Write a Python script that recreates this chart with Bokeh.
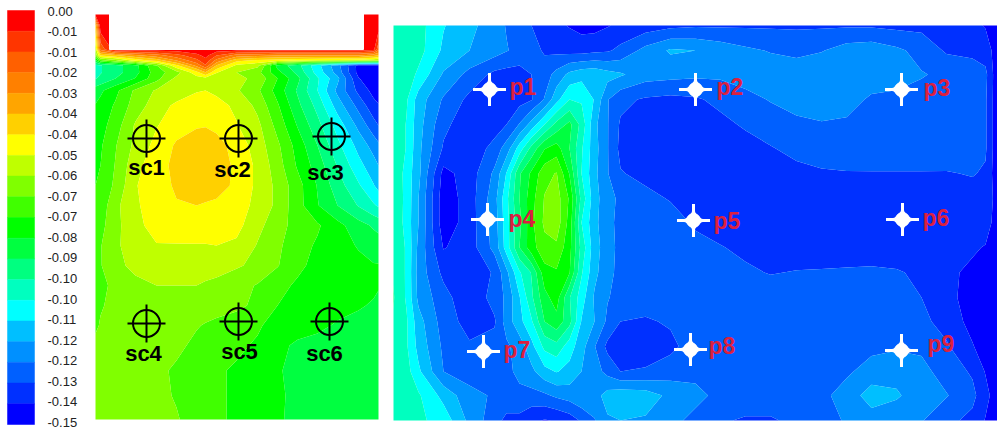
import numpy as np
from bokeh.plotting import figure
from bokeh.core.properties import value
from bokeh.embed import file_html
from bokeh.resources import INLINE

# --- colour scale -----------------------------------------------------------
scale_labels = ["0.00","-0.01","-0.01","-0.02","-0.03","-0.04","-0.04","-0.05","-0.06","-0.07","-0.07",
                "-0.08","-0.09","-0.10","-0.10","-0.11","-0.12","-0.12","-0.13","-0.14","-0.15"]
band_colors_top_down = ["#ff0000","#ff3500","#ff6000","#ff8000","#ffa500","#ffd000","#ffff00","#bfff00",
                        "#80ff00","#40ff00","#00ff00","#00ff40","#00ff80","#00ffbf","#00ffff","#00bfff",
                        "#0090ff","#0060ff","#0030ff","#0000ff"]

# --- left map: values in thousandths below zero -------------------------------
left_x = [95,100,115,135,156,176,196,205,216,236,257,277,297,317,337,358,373,378]
left_y = [14,25,49,55,60,65,72,78,90,105,125,145,165,185,205,225,245,265,285,305,325,345,370,395,419]
left_z = [
 [5,2,2,2,2,2,2,2,2,2,2,2,2,2,2,2,2,3],
 [40,2,2,2,2,2,2,2,2,2,2,2,2,2,2,2,2,3],
 [58,20,3,3,3,3,2,2,3,3,3,3,3,3,3,3,5,20],
 [65,45,40,32,26,18,10,5,15,26,28,30,30,30,30,30,35,38],
 [85,70,62,50,42,30,17,10,25,43,47,49,52,54,55,56,58,60],
 [100,98,93,85,68,47,28,16,38,54,58,85,95,110,125,145,148,148],
 [100,98,93,85,71,63,48,38,52,60,65,80,92,108,123,145,148,149],
 [98,96,90,82,70,58,56,55,58,58,62,75,88,104,118,142,148,149],
 [86,84,77,66,59,57,53,52.5,54,59,66,78,91,105,122,137,145,146],
 [82,80,74,64,56,51,49,49,50,54,62,74,88,100,116,130,140,142],
 [80,78,71,59,53,48,46,45.5,47,52,58,70,83,95,108,122,132,135],
 [78,76,68,58,50,44,40,40,42,48,56,66,78,90,103,115,123,126],
 [77,75,67,55,48,43,39,39,40,47,54,64,76,86,98,110,117,120],
 [75,73,66,53,48,44,40,40,41,47,54,62,72,83,94,104,112,115],
 [74,72,62,53.5,49,45.5,45,46,47,50,54,62,72,82,90,98,104,106],
 [72,70,62,55,49,48,47,47.5,48,50,58,64,71,74,80,87,91,92],
 [71,68,61,57,53,53,53,53,52.5,54,60.5,66,72,76,80,83,86,87],
 [70,68,62,58,56,56,56,56.5,57,59,62,67,73.5,77,79,81,82,82],
 [70,69,66,62,60,60,60,61,62,65,68,73,76,78,79,81,81.5,82],
 [69,68,66,63,62,63,64,64.5,65,66,69,75,78,80,81,82,83,84],
 [68.5,67,65,64,64,65,67,68,69,71,74,78,80,81.5,83,84,85,85],
 [66,65,64,64,65,66,69,70,71,73.5,76,81,83.5,84,85,85,85,85],
 [65,65,65,65,66,68.5,71,72.5,74,76,79,82,84,85,85,85,85,85],
 [65,65,65,65,66,68,71,72.5,74,76,79,81.5,84,85,85,85,85,85],
 [65,65,65,65,66,67,70,72,74,76,79,82,83.5,85,85,85,85,85],
]

# --- right map ---------------------------------------------------------------
right_x = [393,406,418,443,469,494,506,519,531,544,556,569,581,594,607,620,645,670,695,720,745,770,796,821,846,871,896,921,946,972,985,997]
right_y = [25,50,74,99,124,148,173,198,222,247,272,297,321,346,371,395,420]
right_z = [
 [101,101,102,112,118,124,128,133,135,139,141,143,145,145,143,141,139,137,136,136,136,136,136,136,136,136,137,137,140,141,143,147],
 [100,100,102,114,120,124,127,130,132,136,137,138,138,137,136,133,125,119,120,123,126,128,130,128,124,123,126,130,136,137,139,146],
 [100,101,106.5,121,130,137,138,138,135,131,125,118,115,114,117,119,124,125,126,126,124,123,122,121,121,124,125,127,129,131,133,148],
 [100,104,116,128.5,137,139,139,138,135.5,127,115,105,106,113,127,133,136,137,136,133,130,127,124,121,125,128.5,129,130,131,132,134,148],
 [98,105.5,117,133,140,139,135,127,117,105,95,88,100,118,127,136,139,139,139,137,134,131.5,129.5,128.5,128.5,129.5,130,130,131,132,134,148],
 [98,105.5,118,136,141,132,124,109,95,83,79,90,104,117,127,137,141,141,141,140,138,135.5,133,131,130.5,130,130,130,130.5,131,134,148],
 [98,108,118,145,139,126,112,91,81,70,67,83,105,118,127,134.5,137,139,140,141,140,139,137,136,135.5,135.5,135.5,135.5,135.5,134.5,136,148],
 [98,107.5,120,147,139,123,107,90,78,67,64,76,100,117,125,129,133,135.5,137,141,141,141,141,141,141,141,141,140,139,138,137,146],
 [98,108,120,147,139,124,108,92,77,66,63,78,105,118,125,130,131,132,136,139,140,141,141,141,141,141,141,140,139,139,139,146],
 [98,106,122,143,139,125,109,90,78,70,69,80,100,117,124,130,131,132,133,134.5,137,139,140,141,141,141,141,141,141,141.5,143,147],
 [98,106,123,137,141,134,122,106,97,78,76,82,104,118,125,130,131,131,131,132,133.5,135.5,134.5,134,133.5,133,134,137,141,144,146,148],
 [97,106,122,132,141,132,126,113,99,85,79,97,109,121,127,130,131,131,131,130,130,130,130,130,130,130,130,135,140,146,147,148],
 [98,104,117,131,138,136,124,115,106,90,85,95,113,120,129,135,136,134,131,130.5,130,130,130,130,130,130,130,133,138,145,147,148],
 [100,104,115,129,134,132,129,124,115,103,100,109,117,127,137,140,140,137,131,130,130,130,130,130,130,129,128.5,129,134,142,146,148],
 [100,102,111,127.5,131,131,130,125,122,115,112,115,120,124,130,135,134,131,130,130,130,130,130,130,128.5,125,122.5,125,131,136,143,148],
 [103,103,104,115,125,128.5,130,130,130,129,126,124,121,123,117,115,116,122,125,130,130,130,130,129,125,116,119,124,127,133,140,147],
 [103,103,103.5,108,122,132,137,137,141,143,142,139,134,128,121,120,121,125,130,134,136,136,133,129.5,127,124,125,127,133,137,143,148],
]

# --- annotations --------------------------------------------------------------
sc_names = ["sc1","sc2","sc3","sc4","sc5","sc6"]
sc_x = [146,238,331,146,238,329]
sc_y = [138,138,136,323,321,321]
sc_label_x = [146,232,325,143,239,324]
sc_label_y = [167,169,172,353,351,353]

p_names = ["p1","p2","p3","p4","p5","p6","p7","p8","p9"]
p_x = [489,695,901,487,693,902,483,690,901]
p_y = [89,89,89,219,220,219,351,349,350]
p_label_x = [509,716,923,508,713,922,503,708,927]
p_label_y = [86,86,87,218,220,217,349,345,343]

FONT = value("Liberation Sans")

p = figure(width=997, height=430, x_range=(0, 997), y_range=(430, 0),
           x_axis_type=None, y_axis_type=None, output_backend="svg",
           toolbar_location=None, min_border=0, outline_line_color=None,
           background_fill_color="white", border_fill_color="white")

n_bands = len(band_colors_top_down)
levels = -np.arange(n_bands, -1, -1) * 0.15 / n_bands
colors_ascending = band_colors_top_down[::-1]

# colour bar
bar_top, bar_bottom, bar_left, bar_right = 10.0, 424.0, 7, 34
step = (bar_bottom - bar_top) / n_bands
edges = bar_top + step * np.arange(n_bands + 1)
p.quad(left=bar_left, right=bar_right, top=edges[:-1], bottom=edges[1:],
       fill_color=band_colors_top_down, line_color=band_colors_top_down, line_width=0.5)
label_ys = np.linspace(10.5, 422.0, len(scale_labels))
p.text(x=47, y=label_ys, text=scale_labels, text_font=FONT, text_font_size="13px",
       text_color="#222222", text_baseline="middle", text_align="left")

# maps
for xs, ys, zs in [(left_x, left_y, left_z), (right_x, right_y, right_z)]:
    z = -np.array(zs, dtype=float) / 1000.0
    p.contour(np.array(xs, dtype=float), np.array(ys, dtype=float), z, levels,
              fill_color=colors_ascending)

# notch of the left map
p.quad(left=109, right=363, top=10, bottom=49, fill_color="white", line_color="white")

# sc markers
p.scatter(sc_x, sc_y, marker="circle", size=27, fill_color=None, line_color="black", line_width=2)
p.scatter(sc_x, sc_y, marker="cross", size=38, fill_color=None, line_color="black", line_width=2)
p.text(sc_label_x, sc_label_y, text=sc_names, text_font=FONT, text_font_style="bold",
       text_font_size="22px", text_color="black", text_align="center", text_baseline="middle")

# p markers
p.scatter(p_x, p_y, marker="cross", size=33, fill_color=None, line_color="white", line_width=3)
p.scatter(p_x, p_y, marker="square_pin", size=17, angle=np.pi / 4, fill_color="white", line_color="white")
p.scatter(p_x, p_y, marker="circle", size=14, fill_color="white", line_color="white")
p.text(p_label_x, p_label_y, text=p_names, text_font=FONT, text_font_style="bold",
       text_font_size="23px", text_color="#dc2040", text_align="left", text_baseline="middle")

open("out.html", "w").write(file_html(p, INLINE))
